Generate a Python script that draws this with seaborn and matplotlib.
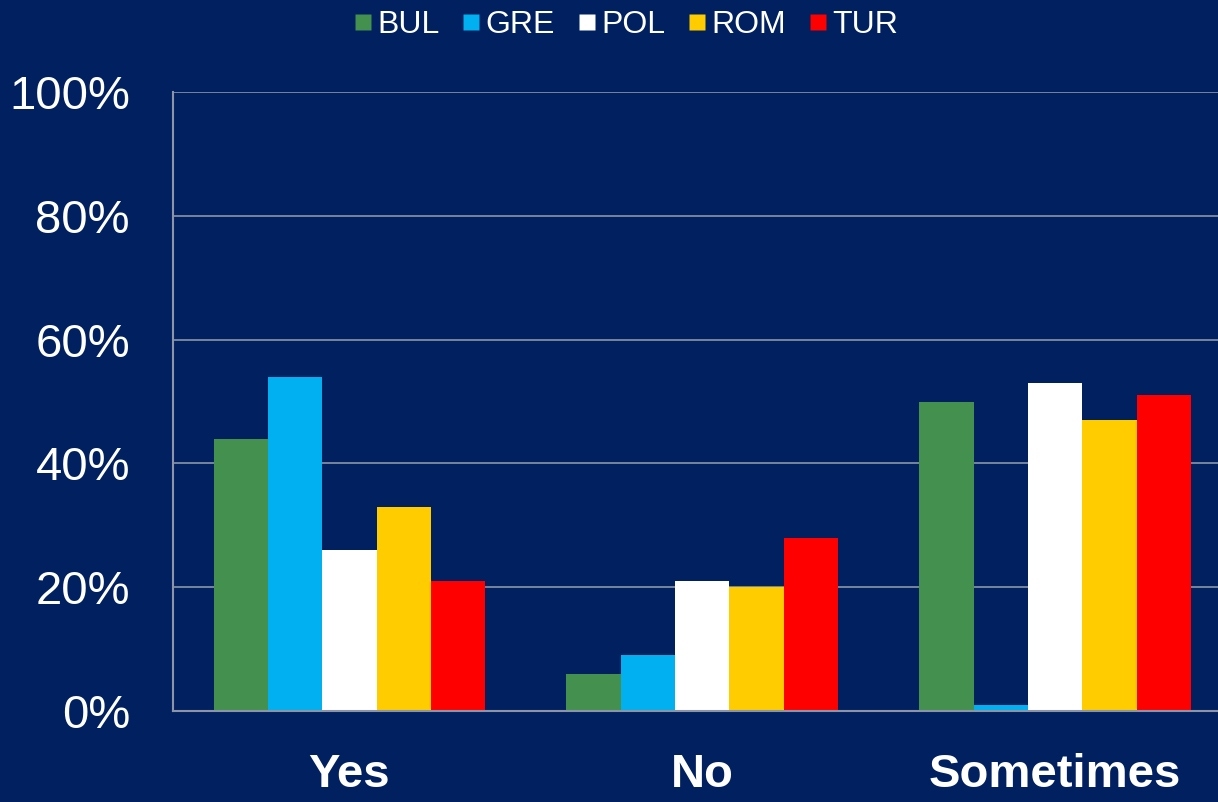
import pandas as pd
import numpy as np
import matplotlib
matplotlib.use("Agg")
import matplotlib.pyplot as plt
import seaborn as sns
from matplotlib.lines import Line2D

answers = ["Yes", "No", "Sometimes"]
countries = ["BUL", "GRE", "POL", "ROM", "TUR"]
bul = [44, 6, 50]
gre = [54, 9, 1]
pol = [26, 21, 53]
rom = [33, 20, 47]
tur = [21, 28, 51]
colors = ["#43904F", "#00B0F0", "#FFFFFF", "#FFCC00", "#FF0000"]

bg = "#00205F"

# long format for seaborn
rows = []
for c, vals in zip(countries, [bul, gre, pol, rom, tur]):
    for a, v in zip(answers, vals):
        rows.append({"answer": a, "country": c, "pct": v})
df = pd.DataFrame(rows)

sns.set_style("white")
plt.rcParams["font.family"] = ["Liberation Sans", "DejaVu Sans"]

fig = plt.figure(figsize=(12.18, 8.02), dpi=100, facecolor=bg)
ax = fig.add_axes([173 / 1218, 91 / 802, (1218 - 173) / 1218, (711 - 92) / 802])
ax.set_facecolor(bg)

sns.barplot(data=df, x="answer", y="pct", hue="country", order=answers,
            hue_order=countries, palette=colors, width=0.77, saturation=1,
            edgecolor="none", linewidth=0, legend=False, ax=ax)

ax.set_xlim(-0.5, 2.462)
ax.set_ylim(0, 100)
ax.set_yticks(range(0, 101, 20))
ax.set_yticklabels([f"{t}%" for t in range(0, 101, 20)], color="white", fontsize=34)
ax.yaxis.grid(True, color="#8C95A8", linewidth=1.2)
ax.set_axisbelow(True)
ax.tick_params(axis="y", length=0, pad=31)
ax.tick_params(axis="x", length=0, pad=30)
for lab in ax.get_xticklabels():
    lab.set_color("white")
    lab.set_fontsize(34)
    lab.set_fontweight("bold")
ax.set_xlabel("")
ax.set_ylabel("")
for s in ["top", "right"]:
    ax.spines[s].set_visible(False)
for s in ["left", "bottom"]:
    ax.spines[s].set_color("#8C95A8")
    ax.spines[s].set_linewidth(1.5)

handles = [Line2D([], [], marker="s", linestyle="none", markersize=11,
                  markerfacecolor=c, markeredgecolor="none") for c in colors]
leg = fig.legend(handles, countries, loc="center", bbox_to_anchor=(625 / 1218, 1 - 25 / 802),
                 ncol=5, frameon=False, fontsize=23, handletextpad=0.1,
                 columnspacing=0.65, handlelength=0.7)
for t in leg.get_texts():
    t.set_color("white")

fig.savefig("out.png", dpi=100, facecolor=bg)
